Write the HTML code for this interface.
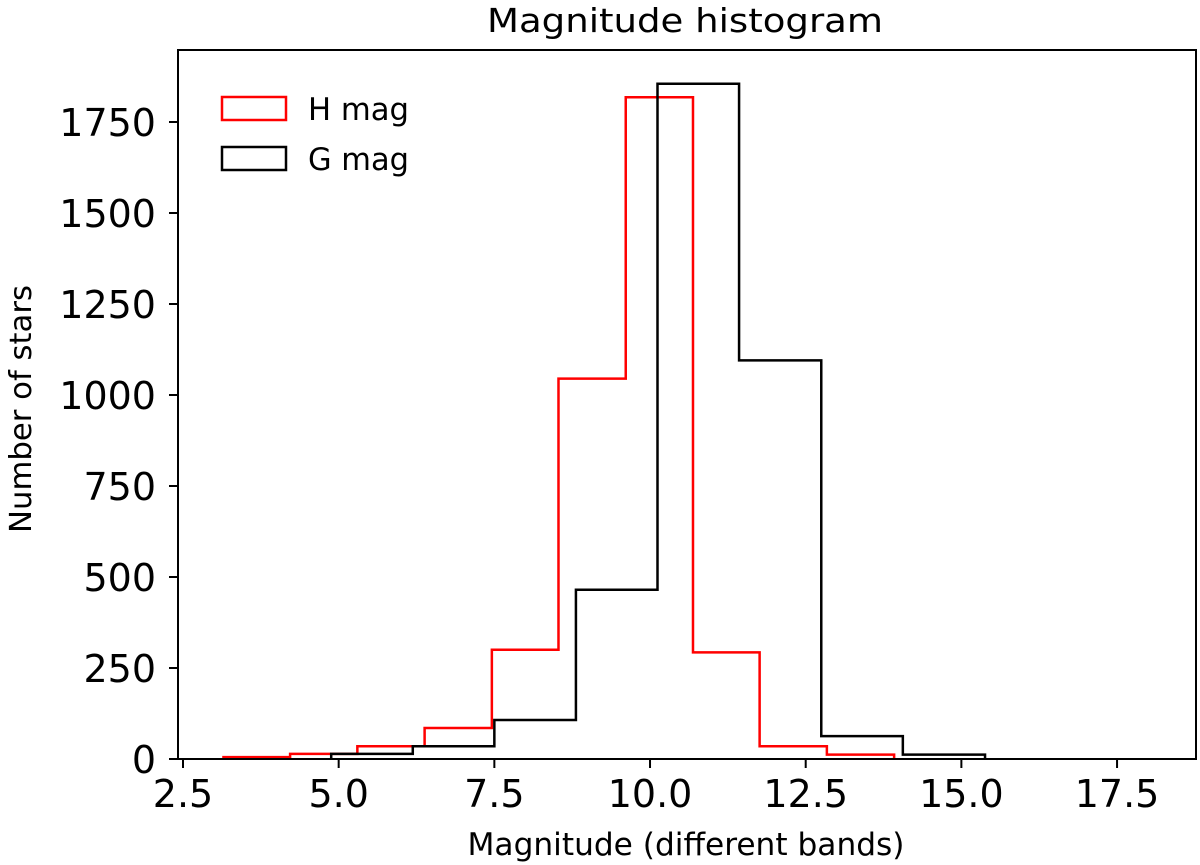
<!DOCTYPE html>
<html><head><meta charset="utf-8"><style>
body{margin:0;background:#fff}
svg{display:block;font-family:"DejaVu Sans","Liberation Sans",sans-serif}
</style></head><body>
<svg id="chart" width="1200" height="865">
<g id="plot"></g>
</svg>
<script>
const hEdges=[3.15,4.22,5.3,6.38,7.46,8.53,9.61,10.69,11.76,12.84,13.92];
const hCounts=[5,14,35,85,300,1045,1818,293,35,12];
const gEdges=[4.88,6.19,7.5,8.81,10.12,11.43,12.75,14.06,15.38];
const gCounts=[14,35,107,465,1855,1095,63,12];
const xTicks=[2.5,5.0,7.5,10.0,12.5,15.0,17.5];
const yTicks=[0,250,500,750,1000,1250,1500,1750];

const L=178,R=1196,T=50,B=759;
const x=m=>183+(m-2.5)*62.27;
const y=c=>B-c*0.364;
const NS="http://www.w3.org/2000/svg";
const g=document.getElementById('plot');
function mk(t,a,p){const e=document.createElementNS(NS,t);for(const k in a)e.setAttribute(k,a[k]);(p||g).appendChild(e);return e;}

function step(edges,counts,color,name){
  let d=`M${x(edges[0])},${y(0)}`;
  counts.forEach((c,i)=>{d+=` L${x(edges[i])},${y(c)} L${x(edges[i+1])},${y(c)}`;});
  d+=` L${x(edges[edges.length-1])},${y(0)}`;
  const p=mk('path',{d:d,fill:'none',stroke:color,'stroke-width':2.5});
  
  
}
step(hEdges,hCounts,'#ff0000','h-mag-histogram');
step(gEdges,gCounts,'#000000','g-mag-histogram');

const frame=mk('rect',{x:L,y:T,width:R-L,height:B-T,fill:'none',stroke:'#000','stroke-width':2});



xTicks.forEach(v=>{
  mk('line',{x1:x(v),x2:x(v),y1:B,y2:B+9,stroke:'#000','stroke-width':2});
  const t=mk('text',{x:x(v),y:807,'font-size':38,'text-anchor':'middle',fill:'#000'});
  t.textContent=v.toFixed(1);
  
  
});
yTicks.forEach(v=>{
  mk('line',{x1:L-9,x2:L,y1:y(v),y2:y(v),stroke:'#000','stroke-width':2});
  const t=mk('text',{x:156,y:y(v)+14,'font-size':38,'text-anchor':'end',fill:'#000'});
  t.textContent=v;
  
  
});

const title=mk('text',{x:685,y:32,'font-size':33,'text-anchor':'middle',textLength:396,lengthAdjust:'spacingAndGlyphs'});
title.textContent='Magnitude histogram';


const xl=mk('text',{x:686,y:855,'font-size':31,'text-anchor':'middle',textLength:437,lengthAdjust:'spacingAndGlyphs'});
xl.textContent='Magnitude (different bands)';


const yl=mk('text',{x:0,y:0,'font-size':30,'text-anchor':'middle',textLength:248,lengthAdjust:'spacingAndGlyphs',transform:'translate(31,409) rotate(-90)'});
yl.textContent='Number of stars';



const leg=[['H mag','#ff0000',97],['G mag','#000',147]];
leg.forEach(([lab,c,ty])=>{
  const r=mk('rect',{x:222,y:ty,width:64,height:23,fill:'none',stroke:c,'stroke-width':2.5});
  
  
  const t=mk('text',{x:308,y:ty+23,'font-size':31,textLength:101,lengthAdjust:'spacingAndGlyphs'});
  t.textContent=lab;
  
  
});
</script>
</body></html>
